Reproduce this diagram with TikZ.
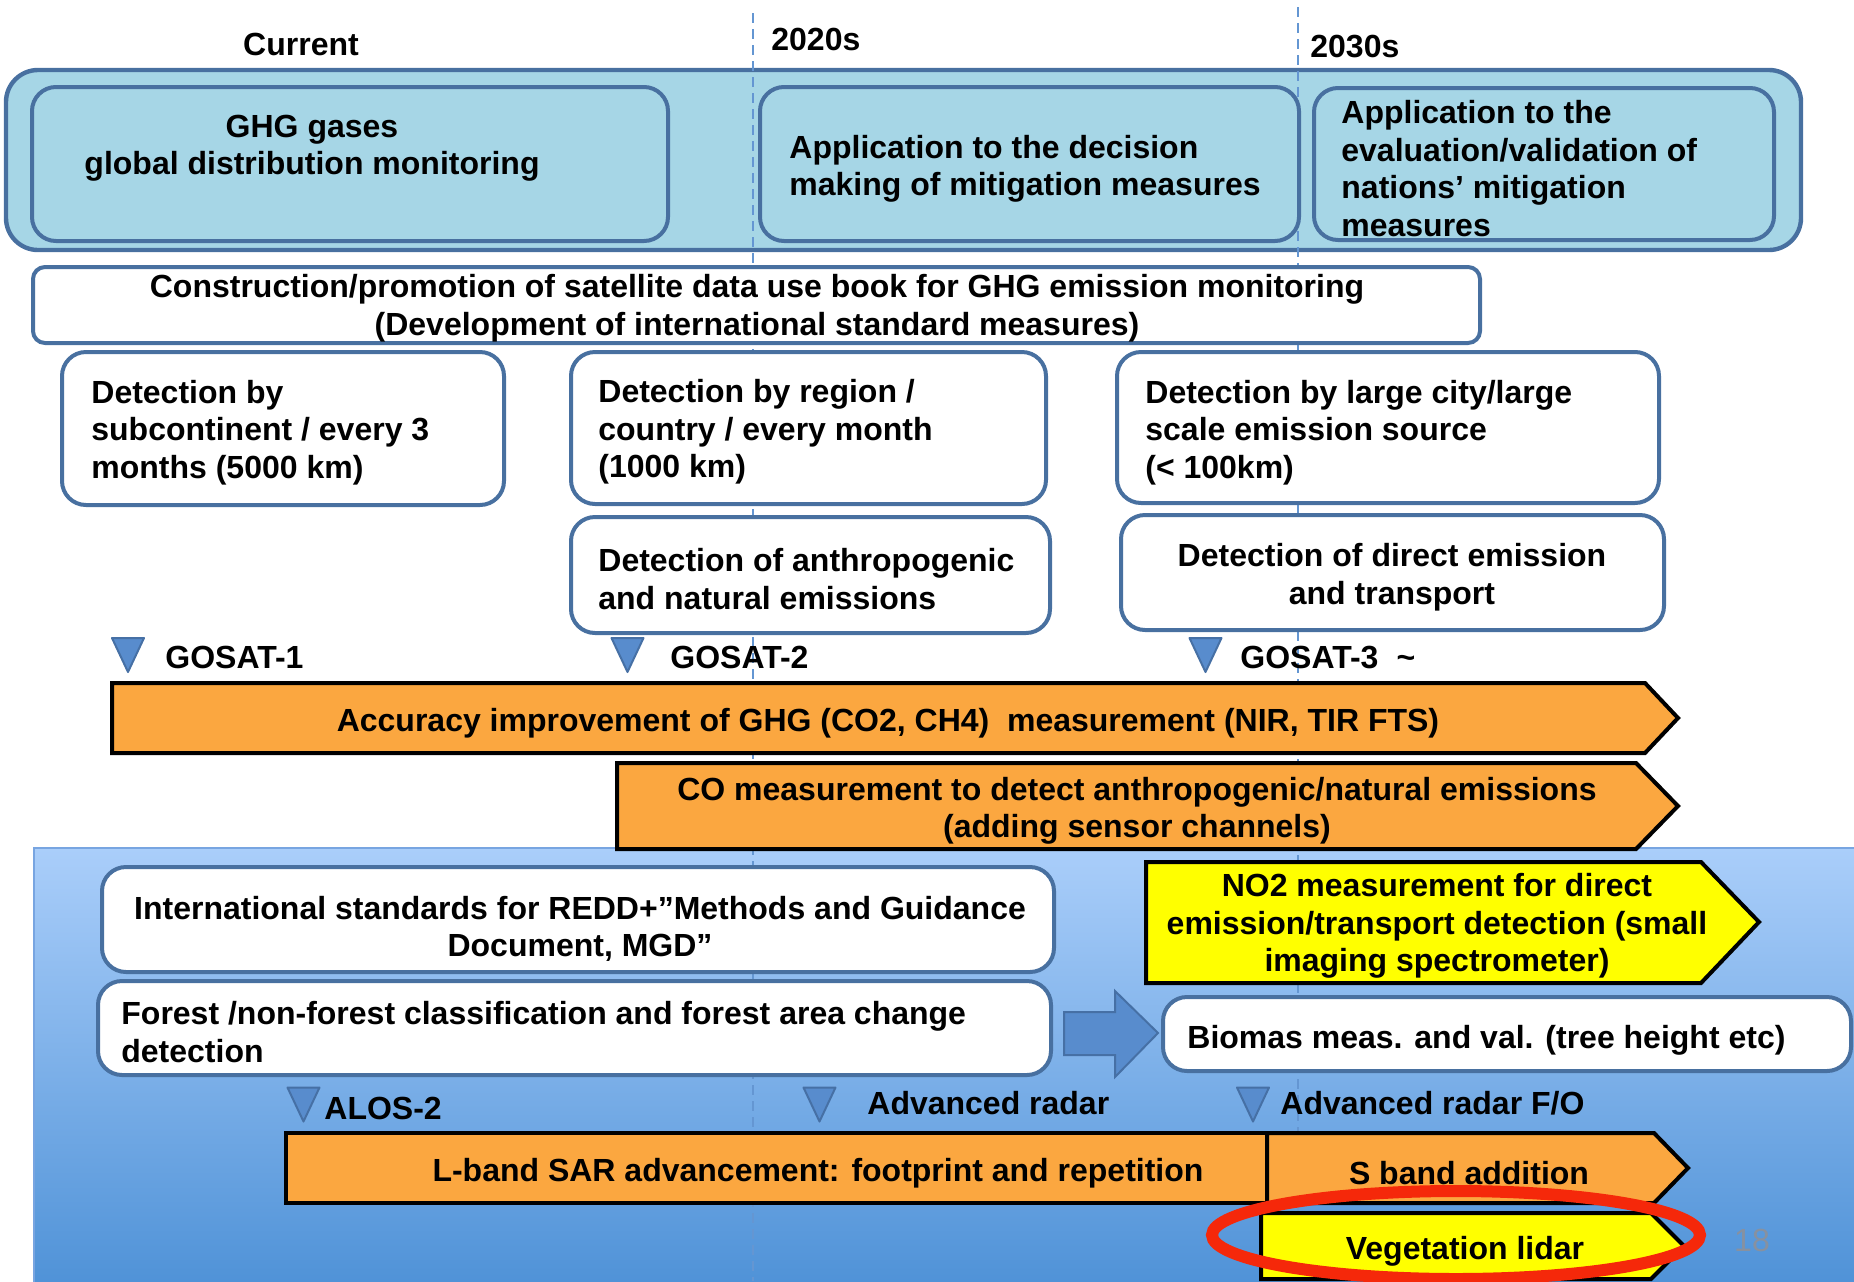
\documentclass[tikz,border=0pt]{standalone}
\usepackage{fontspec}
\setmainfont{Liberation Sans}
\definecolor{boxblue}{RGB}{72,112,160}
\definecolor{skyfill}{RGB}{166,214,230}
\definecolor{barorange}{RGB}{251,167,64}
\definecolor{baryellow}{RGB}{255,255,0}
\definecolor{bluetop}{RGB}{170,206,250}
\definecolor{bluebot}{RGB}{76,144,214}
\definecolor{blueedge}{RGB}{120,165,225}
\definecolor{trifill}{RGB}{88,140,205}
\definecolor{triedge}{RGB}{70,112,165}
\definecolor{yearline}{RGB}{100,150,210}
\definecolor{markred}{RGB}{245,40,10}
\definecolor{pagenum}{RGB}{135,145,160}
\tikzset{
  wbox/.style={draw=boxblue, line width=2pt, fill=white, rounded corners=12pt, inner sep=0pt},
  skybox/.style={wbox, fill=skyfill},
  txt/.style={font=\bfseries\fontsize{16}{18.75}\selectfont, inner sep=0pt, yshift=-1.5pt},
  ltxt/.style={txt, align=left, anchor=west},
  ctxt/.style={txt, align=center},
  bar/.style={draw=black, line width=2pt, line join=miter},
  yeardash/.style={draw=yearline, line width=1pt, dash pattern=on 5pt off 3pt},
  sat/.pic={\path[fill=trifill, draw=triedge, line width=1pt, line join=round]
    (-16,-17) -- (16,-17) -- (0,17) -- cycle;}
}
\begin{document}
\begin{tikzpicture}[x=0.5pt, y=-0.5pt]
  \useasboundingbox (0,0) rectangle (1854,1281);
  \path[top color=bluetop, bottom color=bluebot, draw=blueedge, line width=0.8pt]
    (34,848) rectangle (1870,1300);
  \node[skybox, rounded corners=16pt, line width=2.2pt,
    minimum width=897.5pt, minimum height=90pt] (topframe) at (903.5,160) {};
  \draw[yeardash] (753,13) -- (753,1281);
  \draw[yeardash] (1298,7) -- (1298,1281);

  \node[txt] (now) at (301,41) {Current};
  \node[txt, anchor=west] (y2020) at (771,36) {2020s};
  \node[txt, anchor=west] (y2030) at (1310,44) {2030s};

  \node[skybox, minimum width=318pt, minimum height=77pt] (ghg) at (350,164) {};
  \node[skybox, minimum width=269.5pt, minimum height=77pt] (decide) at (1029.5,164) {};
  \node[skybox, minimum width=230pt, minimum height=76pt] (evaluate) at (1544,164) {};
  \node[ctxt] (ghgtxt) at (312,145) {GHG gases\\global distribution monitoring};
  \node[ltxt] (decidetxt) at (789,166) {Application to the decision\\making of mitigation measures};
  \node[ltxt] (evaluatetxt) at (1341,165.5) {Application to the\\evaluation/validation of\\nations’ mitigation\\measures};

  \node[wbox, rounded corners=6pt, minimum width=723.5pt, minimum height=38pt] (book) at (756.5,305) {};
  \node[ctxt] (booktxt) at (757,305) {Construction/promotion of satellite data use book for GHG emission monitoring\\(Development of international standard measures)};

  \node[wbox, minimum width=221pt, minimum height=76.5pt] (subcont) at (283,428.5) {};
  \node[wbox, minimum width=237.5pt, minimum height=76pt] (region) at (808.5,428) {};
  \node[wbox, minimum width=271pt, minimum height=75.5pt] (city) at (1388,427.5) {};
  \node[wbox, minimum width=239.5pt, minimum height=58pt] (anthro) at (810.5,575) {};
  \node[wbox, minimum width=271.5pt, minimum height=57.5pt] (direct) at (1392.5,572.5) {};
  \node[ltxt] (subconttxt) at (91,429.5) {Detection by\\subcontinent / every 3\\months (5000 km)};
  \node[ltxt] (regiontxt) at (598,429) {Detection by region /\\country / every month\\(1000 km)};
  \node[ltxt] (citytxt) at (1145,429.5) {Detection by large city/large\\scale emission source\\(< 100km)};
  \node[ltxt] (anthrotxt) at (598,576) {Detection of anthropogenic\\and natural emissions};
  \node[ctxt] (directtxt) at (1392,574) {Detection of direct emission\\and transport};

  \pic (gosat1) at (128,655) {sat};
  \pic (gosat2) at (627.5,655) {sat};
  \pic (gosat3) at (1205.5,655) {sat};
  \node[txt, anchor=west] (gosat1txt) at (165,654) {GOSAT-1};
  \node[txt, anchor=west] (gosat2txt) at (670,654) {GOSAT-2};
  \node[txt, anchor=west] (gosat3txt) at (1240,654) {GOSAT-3\hspace{9pt}\textasciitilde};

  \path[bar, fill=barorange] (112,683) -- (1645,683) -- (1678,718) -- (1645,753) -- (112,753) -- cycle;
  \node[ctxt] (accuracy) at (888,720) {Accuracy improvement of GHG (CO2, CH4)\ \ measurement (NIR, TIR FTS)};
  \path[bar, fill=barorange] (617,763) -- (1636,763) -- (1678,806) -- (1636,849) -- (617,849) -- cycle;
  \node[ctxt] (comeas) at (1137,808) {CO measurement to detect anthropogenic/natural emissions\\(adding sensor channels)};

  \node[wbox, minimum width=476pt, minimum height=52.5pt] (redd) at (578,919.5) {};
  \node[ctxt] (reddtxt) at (580,926) {International standards for REDD+”Methods and Guidance\\Document, MGD”};
  \path[bar, fill=baryellow] (1146,862) -- (1701,862) -- (1759,922) -- (1701,983) -- (1146,983) -- cycle;
  \node[ctxt] (no2) at (1437,923) {NO2 measurement for direct\\emission/transport detection (small\\imaging spectrometer)};

  \node[wbox, minimum width=476.5pt, minimum height=47pt] (forest) at (574.5,1028) {};
  \node[ltxt] (foresttxt) at (121,1029) {Forest /non-forest classification and forest area change\\detection};
  \node[wbox, minimum width=344pt, minimum height=37pt] (biomas) at (1507,1034) {};
  \node[ltxt] (biomastxt) at (1187,1037) {Biomas meas. and val. (tree height etc)};
  \path[fill=trifill, draw=triedge, line width=1pt]
    (1064,1012) -- (1115,1012) -- (1115,991) -- (1158,1033) -- (1115,1077) -- (1115,1055) -- (1064,1055) -- cycle;

  \pic (alos) at (303.5,1104.5) {sat};
  \pic (adv) at (819.5,1104.5) {sat};
  \pic (advfo) at (1253,1104.5) {sat};
  \node[txt, anchor=west] (alostxt) at (324,1105) {ALOS-2};
  \node[txt, anchor=west] (advtxt) at (867,1100) {Advanced radar};
  \node[txt, anchor=west] (advfotxt) at (1280,1100) {Advanced radar F/O};

  \path[bar, fill=barorange] (286,1133) rectangle (1267,1203);
  \path[bar, fill=barorange] (1267,1133) -- (1654,1133) -- (1688,1168) -- (1654,1203) -- (1267,1203) -- cycle;
  \node[ctxt] (lband) at (818,1170) {L-band SAR advancement: footprint and repetition};
  \node[ctxt] (sband) at (1469,1170) {S band addition};
  \path[bar, fill=baryellow] (1261,1213) -- (1651,1213) -- (1684,1246) -- (1651,1279) -- (1261,1279) -- cycle;
  \node[ctxt] (lidar) at (1465,1248) {Vegetation lidar};
  \draw[markred, line width=6pt] (1456,1235) ellipse [x radius=244, y radius=44];
  \node[txt, font=\fontsize{16}{18.75}\selectfont, text=pagenum] (page) at (1752,1237) {18};
\end{tikzpicture}
\end{document}
